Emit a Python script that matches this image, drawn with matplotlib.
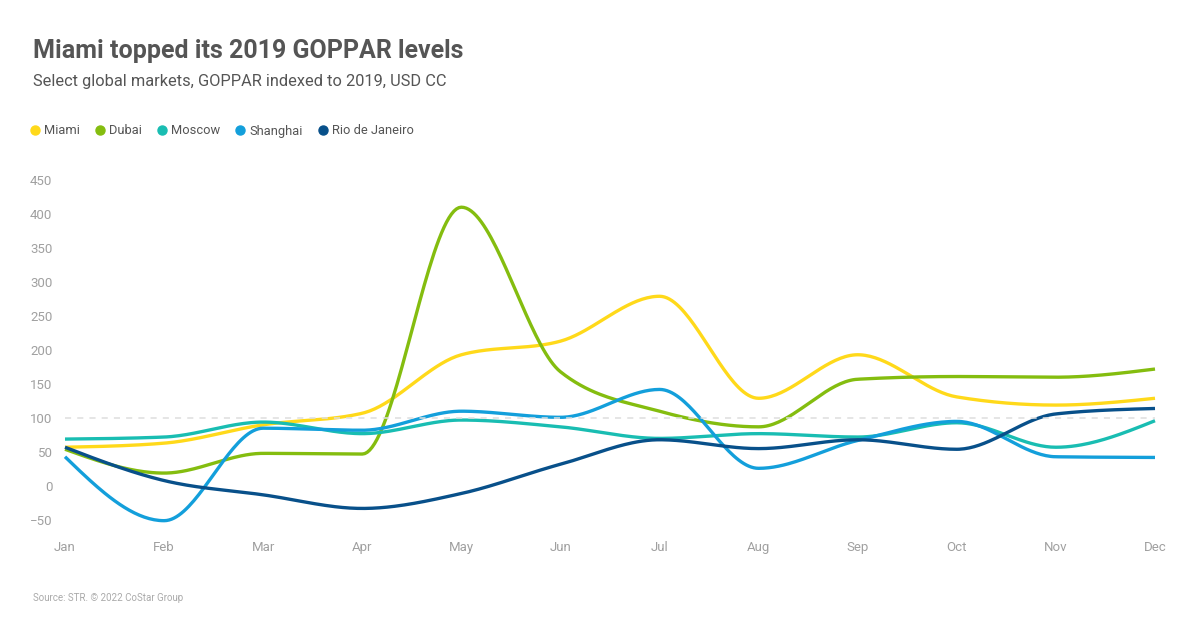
import numpy as np
import matplotlib.pyplot as plt
from matplotlib.lines import Line2D

# Data (GOPPAR indexed to 2019)
months = ['Jan', 'Feb', 'Mar', 'Apr', 'May', 'Jun', 'Jul', 'Aug', 'Sep', 'Oct', 'Nov', 'Dec']
miami = [57, 63, 90, 107, 193, 213, 279, 129, 193, 131, 119, 129]
dubai = [54, 19, 48, 47, 410, 168, 110, 87, 157, 161, 160, 172]
moscow = [69, 72, 94, 77, 97, 87, 70, 77, 72, 93, 57, 96]
shanghai = [43, -51, 85, 82, 110, 101, 142, 26, 67, 95, 43, 42]
rio = [57, 8, -13, -33, -11, 32, 68, 55, 68, 54, 106, 114]

series = [
    ('Miami', miami, '#FFD91A'),
    ('Dubai', dubai, '#84BD0F'),
    ('Moscow', moscow, '#19BDB2'),
    ('Shanghai', shanghai, '#139FDB'),
    ('Rio de Janeiro', rio, '#08508A'),
]


def monotone(x, y, n=40):
    # Steffen monotone cubic interpolation (like d3 curveMonotoneX)
    x = np.asarray(x, float)
    y = np.asarray(y, float)
    h = np.diff(x)
    s = np.diff(y) / h
    m = np.zeros_like(y)
    for i in range(1, len(y) - 1):
        p = (s[i - 1] * h[i] + s[i] * h[i - 1]) / (h[i - 1] + h[i])
        m[i] = (np.sign(s[i - 1]) + np.sign(s[i])) * min(abs(s[i - 1]), abs(s[i]), 0.5 * abs(p))
    # end tangents as d3 does
    m[0] = (3 * s[0] - m[1]) / 2
    m[-1] = (3 * s[-1] - m[-2]) / 2
    xs, ys = [], []
    for i in range(len(y) - 1):
        t = np.linspace(0, 1, n, endpoint=(i == len(y) - 2))
        h00 = 2 * t**3 - 3 * t**2 + 1
        h10 = t**3 - 2 * t**2 + t
        h01 = -2 * t**3 + 3 * t**2
        h11 = t**3 - t**2
        xs.append(x[i] + t * h[i])
        ys.append(h00 * y[i] + h10 * h[i] * m[i] + h01 * y[i + 1] + h11 * h[i] * m[i + 1])
    return np.concatenate(xs), np.concatenate(ys)


plt.rcParams['font.family'] = ['Roboto', 'DejaVu Sans']

fig = plt.figure(figsize=(12, 6.28), dpi=100)
W, H = 1200, 628
ymin, ymax = -60, 460
px_per = 0.68
top_px = 180 - (ymax - 450) * px_per
bot_px = 520 + (-50 - ymin) * px_per
ax = fig.add_axes([65 / W, 1 - bot_px / H, (1155 - 65) / W, (bot_px - top_px) / H])

x = np.arange(len(months))
for name, vals, color in series:
    xs, ys = monotone(x, vals)
    ax.plot(xs, ys, color=color, lw=2.4, solid_capstyle='butt', clip_on=False)

ax.axhline(100, color='#dedede', lw=1.1, ls=(0, (4, 4)), zorder=5)

ax.set_xlim(0, 11)
ax.set_ylim(ymin, ymax)
ax.set_yticks(range(-50, 451, 50))
ax.set_xticks(x)
ax.set_xticklabels(months)
ax.tick_params(axis='both', length=0, labelsize=9.5, labelcolor='#a0a0a0')
ax.tick_params(axis='y', pad=9)
ax.tick_params(axis='x', pad=10)
for sp in ax.spines.values():
    sp.set_visible(False)

fig.text(33 / W, 1 - 58 / H, 'Miami topped its 2019 GOPPAR levels', fontsize=18,
         fontweight='bold', color='#555555')
fig.text(33 / W, 1 - 86 / H, 'Select global markets, GOPPAR indexed to 2019, USD CC', fontsize=11.8,
         color='#555555')
fig.text(33 / W, 1 - 601 / H, 'Source: STR. © 2022 CoStar Group', fontsize=7, color='#aaaaaa')

handles = [Line2D([], [], marker='o', ls='', color=c, markersize=6.5) for _, _, c in series]
fig.legend(handles, [s[0] for s in series], loc='center left', bbox_to_anchor=(30 / W, 1 - 131 / H),
           ncol=5, frameon=False, fontsize=9.3, handletextpad=0.3, columnspacing=1.15,
           labelcolor='#555555', borderaxespad=0, borderpad=0, handlelength=0.8)

fig.savefig('out.png', dpi=100, facecolor='white')
